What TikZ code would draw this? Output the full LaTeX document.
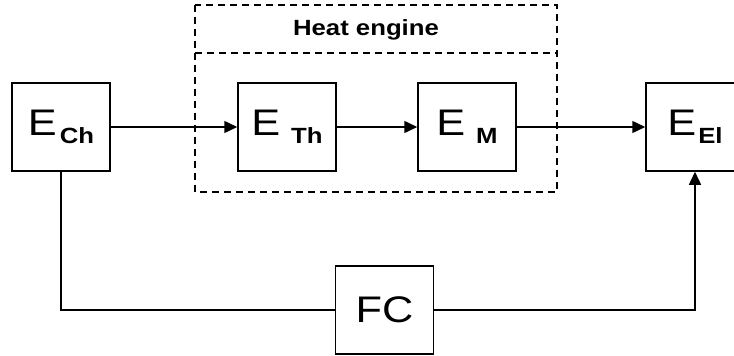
\documentclass[tikz,border=0pt]{standalone}
\usepackage{fontspec}
\setmainfont[FakeStretch=1.17]{Liberation Sans}
\usetikzlibrary{arrows.meta}
\newcommand{\BigTxt}[1]{\fontsize{37}{37}\selectfont #1}
\newcommand{\SubTxt}[1]{\raisebox{-8pt}{\fontsize{22}{22}\selectfont\bfseries #1}}
\begin{document}
\begin{tikzpicture}[x=1pt,y=-1pt,
  blk/.style={draw, line width=1.5pt, minimum width=98pt, minimum height=88pt, inner sep=0pt, fill=white},
  conn/.style={line width=1.5pt, -{Triangle[length=13pt,width=12pt]}},
  plain/.style={line width=1.5pt},
  dsh/.style={line width=1.5pt, dash pattern=on 7pt off 5pt}]
\clip (0,0) rectangle (734,356);
\fill[white] (0,0) rectangle (734,356);
% dashed heat engine box
\draw[dsh] (195,5) rectangle (557,192);
\draw[dsh] (195,53) -- (557,53);
\node (he) at (366,30) {\fontsize{22}{22}\selectfont\bfseries Heat engine};
% blocks
\node[blk] (ech) at (61,127) {\BigTxt{E}\hspace{3pt}\SubTxt{Ch}};
\node[blk] (eth) at (287,127) {\BigTxt{E}\hspace{11pt}\SubTxt{Th}};
\node[blk] (em) at (467,127) {\BigTxt{E}\hspace{11pt}\SubTxt{M}};
\node[blk] (eel) at (695,127) {\BigTxt{E}\hspace{2pt}\SubTxt{El}};
\node[blk] (fc) at (384.5,310) {\BigTxt{FC}};
\coordinate (c1) at (ech.south |- fc.west);
\coordinate (c2) at (eel.south |- fc.east);
% connectors
\draw[conn] (ech.east) -- (eth.west);
\draw[conn] (eth.east) -- (em.west);
\draw[conn] (em.east) -- (eel.west);
\draw[plain] (ech.south) -- (c1) -- (fc.west);
\draw[conn] (fc.east) -- (c2) -- (eel.south);
\end{tikzpicture}
\end{document}
